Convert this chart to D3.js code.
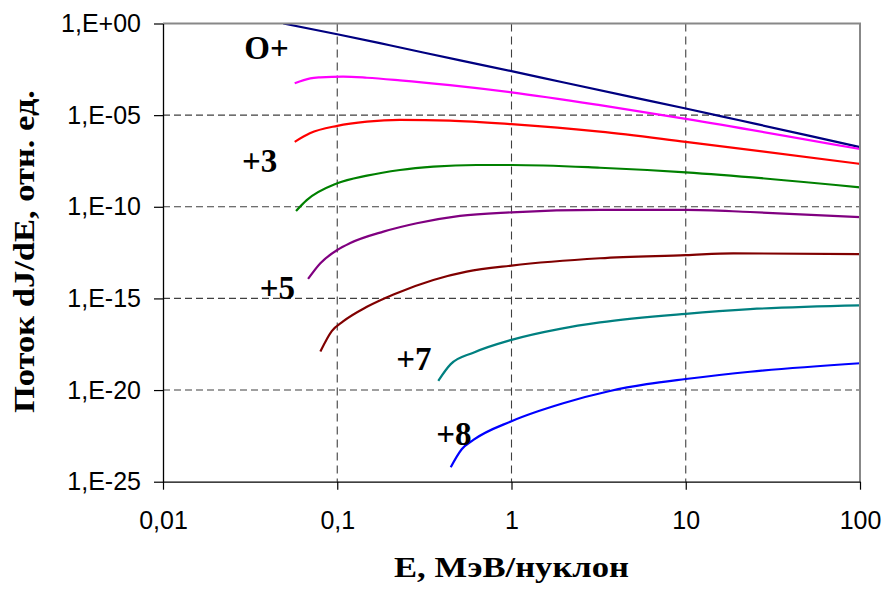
<!DOCTYPE html>
<html>
<head>
<meta charset="utf-8">
<script src="https://cdnjs.cloudflare.com/ajax/libs/d3/7.8.5/d3.min.js"></script>
<style>
  body { margin: 0; background: #fff; }
</style>
</head>
<body>
<div id="chart"></div>
<script>
// Energy grid (MeV/nucleon) and flux (rel. units) for each charge state
var seriesNames = ['O+', '+2', '+3', '+4', '+5', '+6', '+7', '+8'];

var energy1 = [0.049, 0.1, 0.2, 0.5, 1, 2, 5, 10, 20, 50, 100];
var flux1 = [1, 2.6e-1, 6.5e-2, 1.0e-2, 2.5e-3, 6.0e-4, 9.3e-5, 2.3e-5, 5.4e-6, 7.9e-7, 1.8e-7];

var energy2 = [0.057, 0.07, 0.08, 0.108, 0.148, 0.229, 0.443, 1, 3.22, 10, 100];
var flux2 = [5.5e-4, 1.02e-3, 1.15e-3, 1.26e-3, 1.1e-3, 7.9e-4, 4.3e-4, 1.74e-4, 3.5e-5, 6.3e-6, 1.41e-7];

var energy3 = [0.057, 0.0696, 0.1, 0.148, 0.229, 0.443, 1, 3.22, 10, 100];
var flux3 = [3.5e-7, 1.02e-6, 2.6e-6, 4.4e-6, 5.5e-6, 5.0e-6, 3.2e-6, 1.26e-6, 3.5e-7, 2.2e-8];

var energy4 = [0.058, 0.0668, 0.1, 0.148, 0.229, 0.356, 0.63, 1, 3.22, 10, 100];
var flux4 = [5.9e-11, 2.3e-10, 1.9e-9, 5.0e-9, 1.02e-8, 1.55e-8, 1.9e-8, 1.9e-8, 1.35e-8, 7.6e-9, 1.15e-9];

var energy5 = [0.068, 0.08, 0.1, 0.118, 0.184, 0.286, 0.506, 1, 3.22, 10, 23.4, 100];
var flux5 = [1.15e-14, 8.3e-14, 4.4e-13, 1.02e-12, 4.4e-12, 1.26e-11, 3.2e-11, 5.0e-11, 6.8e-11, 6.8e-11, 5.2e-11, 2.7e-11];

var energy6 = [0.08, 0.093, 0.108, 0.148, 0.212, 0.356, 0.553, 1, 3.22, 10, 18.7, 100];
var flux6 = [1.26e-18, 1.66e-17, 5.6e-17, 3.5e-16, 1.7e-15, 1.02e-14, 2.9e-14, 6.2e-14, 1.55e-13, 2.3e-13, 2.9e-13, 2.6e-13];

var energy7 = [0.38, 0.448, 0.604, 1, 1.9, 3.22, 10, 23.4, 100];
var flux7 = [3.2e-20, 2.6e-19, 1.1e-18, 5.5e-18, 2.2e-17, 4.9e-17, 1.45e-16, 2.6e-16, 4.2e-16];

var energy8 = [0.448, 0.518, 0.604, 1, 1.98, 3.67, 5.97, 10, 23.4, 100];
var flux8 = [6.2e-25, 5.9e-24, 1.9e-23, 2.0e-22, 1.9e-21, 8.9e-21, 2.1e-20, 4.0e-20, 1.0e-19, 2.9e-19];

var xTicks = [0.01, 0.1, 1, 10, 100];
var xTickLabels = ['0,01', '0,1', '1', '10', '100'];
var yTicks = [1, 1e-5, 1e-10, 1e-15, 1e-20, 1e-25];
var yTickLabels = ['1,E+00', '1,E-05', '1,E-10', '1,E-15', '1,E-20', '1,E-25'];

// Text labels on the plot, anchored in data space (energy, flux)
var labelTexts = ['O+', '+3', '+5', '+7', '+8'];
var labelEnergy = [0.0293, 0.0284, 0.0359, 0.218, 0.37];
var labelFlux = [1.1e-2, 8.2e-9, 9.3e-16, 1.26e-19, 1.0e-23];

function Chart() {
	var attrs = {
		svgWidth: 885,
		svgHeight: 590,
		marginTop: 23.5,
		marginBottom: 108.3,
		marginRight: 25,
		marginLeft: 163,
		container: 'body',
		sansFont: "'Liberation Sans', Arial, sans-serif",
		serifFont: "'Liberation Serif', 'Times New Roman', serif",
		colors: ['#000080', '#FF00FF', '#FF0000', '#008000', '#800080', '#800000', '#008080', '#0000FF'],
		data: null
	};

	var main = function() {
		var container = d3.select(attrs.container);

		var calc = {};
		calc.chartWidth = attrs.svgWidth - attrs.marginRight - attrs.marginLeft;
		calc.chartHeight = attrs.svgHeight - attrs.marginBottom - attrs.marginTop;

		var svg = container
			.patternify({ tag: 'svg', selector: 'svg-chart-container' })
			.attr('width', attrs.svgWidth)
			.attr('height', attrs.svgHeight)
			.style('display', 'block');

		var chart = svg
			.patternify({ tag: 'g', selector: 'chart' })
			.attr('transform', 'translate(' + attrs.marginLeft + ',' + attrs.marginTop + ')');

		// Scales
		var x = d3.scaleLog().domain([0.01, 100]).range([0, calc.chartWidth]);
		var y = d3.scaleLog().domain([1e-25, 1]).range([calc.chartHeight, 0]);

		// Grid
		chart
			.patternify({ tag: 'line', selector: 'grid-h', data: yTicks.slice(1, -1) })
			.attr('x1', 0)
			.attr('x2', calc.chartWidth)
			.attr('y1', (d) => y(d))
			.attr('y2', (d) => y(d))
			.attr('stroke', '#404040')
			.attr('stroke-width', 1.1)
			.attr('stroke-dasharray', '7,4');

		chart
			.patternify({ tag: 'line', selector: 'grid-v', data: xTicks.slice(1, -1) })
			.attr('x1', (d) => x(d))
			.attr('x2', (d) => x(d))
			.attr('y1', 0)
			.attr('y2', calc.chartHeight)
			.attr('stroke', '#404040')
			.attr('stroke-width', 1.1)
			.attr('stroke-dasharray', '8,5');

		// Curves
		svg.patternify({ tag: 'defs', selector: 'defs' })
			.patternify({ tag: 'clipPath', selector: 'plot-clip' })
			.attr('id', 'plot-clip')
			.patternify({ tag: 'rect', selector: 'plot-clip-rect' })
			.attr('width', calc.chartWidth)
			.attr('height', calc.chartHeight);

		var line = d3.line()
			.curve(d3.curveMonotoneX)
			.x((d) => x(d[0]))
			.y((d) => y(d[1]));

		chart
			.patternify({ tag: 'path', selector: 'series', data: attrs.data })
			.attr('clip-path', 'url(#plot-clip)')
			.attr('d', (d) => line(d.points))
			.attr('fill', 'none')
			.attr('stroke', (d, i) => attrs.colors[i])
			.attr('stroke-width', 2.2)
			.attr('stroke-linejoin', 'round');

		// Plot area border (top and right)
		chart
			.patternify({ tag: 'path', selector: 'plot-border' })
			.attr('d', 'M0,0H' + calc.chartWidth + 'V' + calc.chartHeight)
			.attr('fill', 'none')
			.attr('stroke', '#888')
			.attr('stroke-width', 2);

		// Axes
		var xAxis = d3.axisBottom(x)
			.tickValues(xTicks)
			.tickFormat((d, i) => xTickLabels[i])
			.tickSizeInner(8)
			.tickSizeOuter(0)
			.tickPadding(22);

		var yAxis = d3.axisLeft(y)
			.tickValues(yTicks)
			.tickFormat((d, i) => yTickLabels[i])
			.tickSizeInner(9)
			.tickSizeOuter(0)
			.tickPadding(13);

		var xAxisG = chart
			.patternify({ tag: 'g', selector: 'x-axis' })
			.attr('transform', 'translate(0,' + calc.chartHeight + ')')
			.call(xAxis);

		var yAxisG = chart.patternify({ tag: 'g', selector: 'y-axis' }).call(yAxis);

		[ xAxisG, yAxisG ].forEach(function(g) {
			g.select('.domain').attr('stroke', '#000').attr('stroke-width', 1.3);
			g.selectAll('.tick line').attr('stroke', '#000').attr('stroke-width', 1.2);
			g.selectAll('.tick text')
				.attr('fill', '#000')
				.style('font-family', attrs.sansFont)
				.style('font-size', '25px');
		});

		// Curve labels
		chart
			.patternify({ tag: 'text', selector: 'curve-label', data: labelTexts })
			.attr('x', (d, i) => x(labelEnergy[i]))
			.attr('y', (d, i) => y(labelFlux[i]))
			.text((d) => d)
			.style('font-family', attrs.serifFont)
			.style('font-size', '33px')
			.style('font-weight', 'bold')
			.attr('fill', '#000');

		// Axis titles
		svg
			.patternify({ tag: 'text', selector: 'x-title' })
			.attr('x', attrs.marginLeft + x(1))
			.attr('y', 577)
			.attr('text-anchor', 'middle')
			.attr('textLength', 235)
			.attr('lengthAdjust', 'spacingAndGlyphs')
			.text('E, МэВ/нуклон')
			.style('font-family', attrs.serifFont)
			.style('font-size', '29px')
			.style('font-weight', 'bold');

		svg
			.patternify({ tag: 'text', selector: 'y-title' })
			.attr('transform', 'translate(34,251.5) rotate(-90)')
			.attr('text-anchor', 'middle')
			.attr('textLength', 323)
			.attr('lengthAdjust', 'spacingAndGlyphs')
			.text('Поток dJ/dE, отн. ед.')
			.style('font-family', attrs.serifFont)
			.style('font-size', '30px')
			.style('font-weight', 'bold');
	};

	//----------- PROTOTYPE FUNCTIONS  ----------------------
	d3.selection.prototype.patternify = function(params) {
		var container = this;
		var selector = params.selector;
		var elementTag = params.tag;
		var data = params.data || [ selector ];

		var selection = container.selectAll('.' + selector).data(data, (d, i) => i);
		selection.exit().remove();
		selection = selection.enter().append(elementTag).merge(selection);
		selection.attr('class', selector);
		return selection;
	};

	Object.keys(attrs).forEach((key) => {
		main[key] = function(_) {
			if (!arguments.length) return attrs[key];
			attrs[key] = _;
			return main;
		};
	});

	main.render = function() {
		main();
		return main;
	};

	return main;
}

var energies = [energy1, energy2, energy3, energy4, energy5, energy6, energy7, energy8];
var fluxes = [flux1, flux2, flux3, flux4, flux5, flux6, flux7, flux8];

var seriesData = seriesNames.map(function(name, i) {
	return {
		name: name,
		points: energies[i].map((e, j) => [e, fluxes[i][j]])
	};
});

Chart().container('#chart').data(seriesData).render();
</script>
</body>
</html>
